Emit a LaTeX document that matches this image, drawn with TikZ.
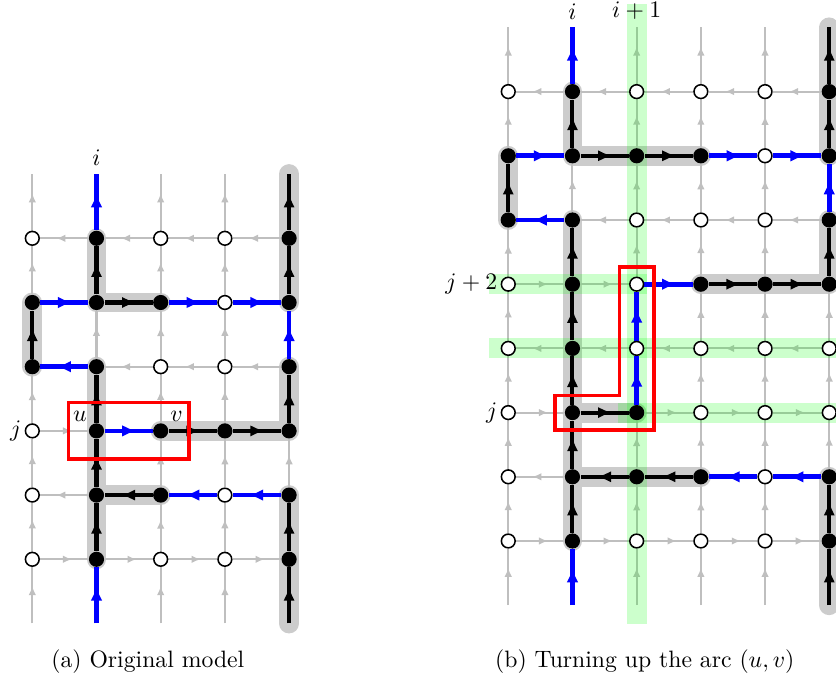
\documentclass[tikz,border=0pt]{standalone}
\usetikzlibrary{arrows.meta,decorations.markings,calc}
\pgfdeclarelayer{hllayer}
\pgfdeclarelayer{grlayer}
\pgfdeclarelayer{gnlayer}
\pgfdeclarelayer{colayer}
\pgfsetlayers{hllayer,grlayer,gnlayer,colayer,main}
\begin{document}
\begin{tikzpicture}[x=27.09pt,y=27.09pt,
  wn/.style={circle,draw=black,fill=white,line width=0.65pt,inner sep=0pt,minimum size=5.8pt},
  bn/.style={circle,fill=black,inner sep=0pt,minimum size=6.4pt},
  midarrow/.style={postaction={decorate},decoration={markings,mark=at position 0.66 with {\arrow{#1}}}},
  gl/.style={draw=black!25,line width=0.85pt,midarrow={Latex[length=3.8pt,width=3.2pt]}},
  blk/.style={draw=black,line width=1.7pt,midarrow={Latex[length=6pt,width=4.8pt]}},
  blu/.style={draw=blue,line width=2.0pt,midarrow={Latex[length=6pt,width=5pt]}},
  hl/.style={draw=black!20,line width=8.4pt,line cap=round,line join=round},
  gs/.style={fill=green,fill opacity=0.2,draw=none},
  redbox/.style={draw=red,line width=1.4pt},
  lbl/.style={left,inner sep=1.2pt}]
\useasboundingbox (-0.503,-1.911) rectangle (12.519,8.712);

% ---------- left grid nodes ----------
\foreach \cx/\ry in {1/5,4/5,0/4,1/4,2/4,4/4,0/3,1/3,4/3,1/2,2/2,3/2,4/2,1/1,2/1,4/1,1/0,4/0}
  {\node[bn] (L-\cx-\ry) at (\cx,\ry) {};}
\foreach \cx/\ry in {0/5,2/5,3/5,3/4,2/3,3/3,0/2,0/1,3/1,0/0,2/0,3/0}
  {\node[wn] (L-\cx-\ry) at (\cx,\ry) {};}
\foreach \cx in {0,...,4} {
  \coordinate (L-\cx-t) at (\cx,6);
  \coordinate (L-\cx-b) at (\cx,-1);
}
% ---------- right grid nodes ----------
\begin{scope}[shift={(7.414,0.285)}]
\foreach \cx/\ry in {1/7,5/7,0/6,1/6,2/6,3/6,5/6,0/5,1/5,5/5,1/4,3/4,4/4,5/4,1/3,1/2,2/2,1/1,2/1,3/1,5/1,1/0,5/0}
  {\node[bn] (R-\cx-\ry) at (\cx,\ry) {};}
\foreach \cx/\ry in {0/7,2/7,3/7,4/7,4/6,2/5,3/5,4/5,0/4,2/4,0/3,2/3,3/3,4/3,5/3,0/2,3/2,4/2,5/2,0/1,4/1,0/0,2/0,3/0,4/0}
  {\node[wn] (R-\cx-\ry) at (\cx,\ry) {};}
\foreach \cx in {0,...,5} {
  \coordinate (R-\cx-t) at (\cx,8);
  \coordinate (R-\cx-b) at (\cx,-1);
}
\end{scope}

% ---------- coloured arcs ----------
\def\colL{blu/1/5/1/t,blk/1/4/1/5,blu/0/4/1/4,blk/1/4/2/4,blu/2/4/3/4,blu/3/4/4/4,blk/4/4/4/5,blk/4/5/4/t,blu/4/3/4/4,blk/4/2/4/3,blk/3/2/4/2,blk/2/2/3/2,blu/1/2/2/2,blk/1/2/1/3,blu/1/3/0/3,blk/0/3/0/4,blk/1/1/1/2,blk/1/0/1/1,blu/1/b/1/0,blk/2/1/1/1,blu/3/1/2/1,blu/4/1/3/1,blk/4/0/4/1,blk/4/b/4/0}
\def\colR{blu/1/7/1/t,blk/1/6/1/7,blu/0/6/1/6,blk/1/6/2/6,blk/2/6/3/6,blu/3/6/4/6,blu/4/6/5/6,blk/5/6/5/7,blk/5/7/5/t,blu/5/5/5/6,blk/5/4/5/5,blk/4/4/5/4,blk/3/4/4/4,blu/2/4/3/4,blu/2/3/2/4,blu/2/2/2/3,blk/1/2/2/2,blk/0/5/0/6,blu/1/5/0/5,blk/1/4/1/5,blk/1/3/1/4,blk/1/2/1/3,blk/1/1/1/2,blk/1/0/1/1,blu/1/b/1/0,blk/2/1/1/1,blk/3/1/2/1,blu/4/1/3/1,blu/5/1/4/1,blk/5/0/5/1,blk/5/b/5/0}
\foreach \sa/\xa/\ya/\xb/\yb in \colL {\expandafter\gdef\csname used-L-\xa-\ya-\xb-\yb\endcsname{}}
\foreach \sa/\xa/\ya/\xb/\yb in \colR {\expandafter\gdef\csname used-R-\xa-\ya-\xb-\yb\endcsname{}}

\begin{pgfonlayer}{colayer}
\clip (-0.503,-1.911) rectangle (12.519,8.712);
\foreach \sa/\xa/\ya/\xb/\yb in \colL {\draw[\sa] (L-\xa-\ya) -- (L-\xb-\yb);}
\foreach \sa/\xa/\ya/\xb/\yb in \colR {\draw[\sa] (R-\xa-\ya) -- (R-\xb-\yb);}
\end{pgfonlayer}

% ---------- grey grid ----------
\begin{pgfonlayer}{grlayer}
\clip (-0.503,-1.911) rectangle (12.519,8.712);
\foreach \cx in {0,...,4} {
  \ifcsname used-L-\cx-b-\cx-0\endcsname\else\draw[gl] (L-\cx-b) -- (L-\cx-0);\fi
  \ifcsname used-L-\cx-5-\cx-t\endcsname\else\draw[gl] (L-\cx-5) -- (L-\cx-t);\fi
  \foreach \ry [evaluate=\ry as \rz using int(\ry+1)] in {0,...,4} {
    \ifcsname used-L-\cx-\ry-\cx-\rz\endcsname\else\draw[gl] (L-\cx-\ry) -- (L-\cx-\rz);\fi
  }
}
\foreach \ry in {0,...,5} {
  \foreach \cx [evaluate=\cx as \cz using int(\cx+1)] in {0,...,3} {
    \ifodd\ry\relax
      \ifcsname used-L-\cz-\ry-\cx-\ry\endcsname\else\draw[gl] (L-\cz-\ry) -- (L-\cx-\ry);\fi
    \else
      \ifcsname used-L-\cx-\ry-\cz-\ry\endcsname\else\draw[gl] (L-\cx-\ry) -- (L-\cz-\ry);\fi
    \fi
  }
}
\foreach \cx in {0,...,5} {
  \ifcsname used-R-\cx-b-\cx-0\endcsname\else\draw[gl] (R-\cx-b) -- (R-\cx-0);\fi
  \ifcsname used-R-\cx-7-\cx-t\endcsname\else\draw[gl] (R-\cx-7) -- (R-\cx-t);\fi
  \foreach \ry [evaluate=\ry as \rz using int(\ry+1)] in {0,...,6} {
    \ifcsname used-R-\cx-\ry-\cx-\rz\endcsname\else\draw[gl] (R-\cx-\ry) -- (R-\cx-\rz);\fi
  }
}
\foreach \ry in {0,...,7} {
  \foreach \cx [evaluate=\cx as \cz using int(\cx+1)] in {0,...,4} {
    \ifodd\ry\relax
      \ifcsname used-R-\cz-\ry-\cx-\ry\endcsname\else\draw[gl] (R-\cz-\ry) -- (R-\cx-\ry);\fi
    \else
      \ifcsname used-R-\cx-\ry-\cz-\ry\endcsname\else\draw[gl] (R-\cx-\ry) -- (R-\cz-\ry);\fi
    \fi
  }
}
\end{pgfonlayer}

% ---------- grey highlights ----------
\begin{pgfonlayer}{hllayer}
\clip (-0.503,-1.911) rectangle (12.519,8.712);
\draw[hl] (L-1-5.center) -- (L-1-4.center) -- (L-2-4.center);
\draw[hl] (L-0-3.center) -- (L-0-4.center);
\draw[hl] (L-1-3.center) -- (L-1-0.center);
\draw[hl] (L-1-1.center) -- (L-2-1.center);
\draw[hl] (L-2-2.center) -- (L-4-2.center) -- (L-4-3.center);
\draw[hl] (L-4-4.center) -- (L-4-t.center);
\draw[hl] (L-4-b.center) -- (L-4-1.center);
\draw[hl] (R-1-7.center) -- (R-1-6.center) -- (R-3-6.center);
\draw[hl] (R-0-5.center) -- (R-0-6.center);
\draw[hl] (R-1-5.center) -- (R-1-0.center);
\draw[hl] (R-1-1.center) -- (R-3-1.center);
\draw[hl] (R-1-2.center) -- (R-2-2.center);
\draw[hl] (R-3-4.center) -- (R-5-4.center) -- (R-5-5.center);
\draw[hl] (R-5-6.center) -- (R-5-t.center);
\draw[hl] (R-5-b.center) -- (R-5-1.center);
\end{pgfonlayer}

% ---------- green strips ----------
\begin{pgfonlayer}{gnlayer}
\clip (-0.503,-1.911) rectangle (12.519,8.712);
\fill[gs] ($(R-2-b)+(-0.155,-0.3)$) rectangle ($(R-2-t)+(0.155,0.36)$);
\fill[gs] ($(R-0-4)+(-0.3,-0.155)$) rectangle ($(R-2-4)+(0.155,0.155)$);
\fill[gs] ($(R-0-3)+(-0.3,-0.155)$) rectangle ($(R-5-3)+(0.6,0.155)$);
\fill[gs] ($(R-2-2)+(-0.29,-0.155)$) rectangle ($(R-5-2)+(0.6,0.155)$);
\end{pgfonlayer}

% ---------- red boxes ----------
\draw[redbox] ($(L-1-2)+(-0.44,-0.44)$) rectangle ($(L-2-2)+(0.44,0.44)$);
\draw[redbox] ($(R-1-2)+(-0.27,-0.27)$) -- ($(R-2-2)+(0.27,-0.27)$) -- ($(R-2-4)+(0.27,0.27)$)
  -- ($(R-2-4)+(-0.27,0.27)$) -- ($(R-2-2)+(-0.27,0.27)$) -- ($(R-1-2)+(-0.27,0.27)$) -- cycle;

% ---------- labels ----------
\node[above] (lab-i) at (L-1-t) {$i$};
\node[lbl] (lab-j) at (L-0-2.west) {$j$};
\node (lab-u) at ($(L-1-2)+(-0.26,0.22)$) {$u$};
\node (lab-v) at ($(L-2-2)+(0.245,0.22)$) {$v$};
\node[above] (rlab-i) at (R-1-t) {$i$};
\node[above] (rlab-i1) at (R-2-t) {$i+1$};
\node[lbl] (rlab-j2) at (R-0-4.west) {$j+2$};
\node[lbl] (rlab-j) at (R-0-2.west) {$j$};
\node (cap-a) at (1.80,-1.6) {(a) Original model};
\node (cap-b) at (9.54,-1.6) {(b) Turning up the arc $(u,v)$};
\end{tikzpicture}
\end{document}
